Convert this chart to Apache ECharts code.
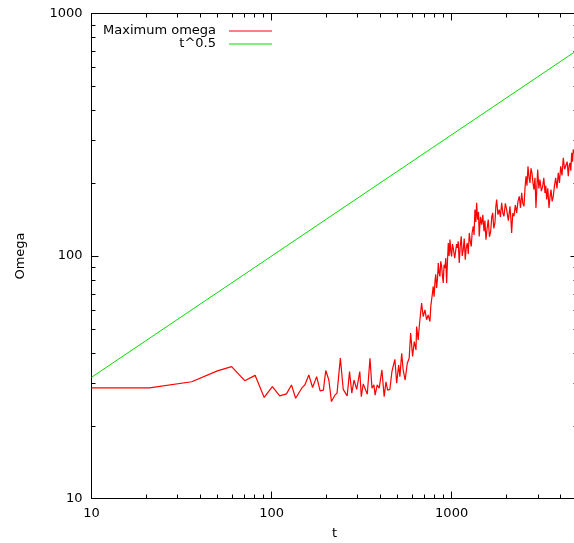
<!DOCTYPE html>
<html><head><meta charset="utf-8">
<script src="https://cdn.jsdelivr.net/npm/echarts@6/dist/echarts.min.js"></script>
<style>html,body{margin:0;padding:0;background:#fff}#chart{width:574px;height:543px}</style>
</head><body><div id="chart"></div>
<script>
// Maximum omega
const tValues = [10,21,36,50,60,71,81,91,101,111,121,129,136,147,153,161,169,178,186,194,
  200,208,215,225,231,241,250,263,271,279,287,297,304,309,315,323,331,340,352,361,
  370,376,386,396,410,422,432,441,454,466,484,495,508,516,528,538,552,567,581,592,
  607,620,634,639,652,661,681,695,711,726,741,
  758,766,774,782,790,799,808,816,825,834,843,852,861,870,880,889,898,908,918,928,
  938,948,958,968,979,990,1000,1010,1021,1040,1057,1065,1074,1088,1102,1116,1131,1145,1160,1175,
  1190,1205,1221,1237,1253,1269,1285,1300,1318,1332,1347,1362,1377,1386,1395,1410,1423,1445,1468,1490,
  1512,1530,1551,1574,1597,1622,1648,1670,1690,1715,1740,1760,1778,1808,1838,1866,1896,1925,1953,1987,
  2021,2065,2108,2130,2154,2185,2219,2258,2297,2336,2375,2412,2449,2485,2522,2555,2588,2620,2655,2690,
  2723,2758,2793,2830,2866,2903,2940,2972,3005,3050,3094,3150,3203,3250,3299,3335,3371,3420,3473,3518,
  3563,3615,3668,3725,3783,3846,3910,3970,4033,4100,4169,4240,4315,4380,4444,4490,4541,4590,4642,4690,
  4738,5000];
const omegaValues = [28.6,28.6,30.3,33.6,35.0,30.6,32.2,26.1,28.9,26.5,27.0,29.4,25.9,28.5,29.4,32.3,28.7,31.8,27.8,28.0,
  33.7,30.8,25.1,26.7,27.2,37.9,28.2,26.5,33.4,27.2,30.8,28.2,28.0,33.4,26.3,29.7,29.4,26.9,37.9,28.5,
  29.4,26.7,29.4,28.5,33.9,26.3,30.3,28.0,28.2,33.4,37.5,29.9,35.5,31.8,39.7,33.9,30.8,36.1,37.9,48.1,
  38.5,44.4,41.0,51.2,45.1,51.2,63.9,56.3,60.0,54.6,57.2,
  53.7,62,66.0,70,74.9,68,78.5,84,73.8,80,93.6,85,82.4,95,90.6,83,77.4,92,89.2,98,
  77.4,95,113.2,100,116.8,104,99.6,112,107.9,98,96.5,112,107.9,115,93.6,110,120.5,100,106.2,118,
  96.5,108,113.2,102,124.5,115,109.6,125,132.5,122,155.4,138,165.6,150,141.3,152,120.5,145,134.7,148,
  126.4,140,116.8,130,141.3,120,126.4,145,150.6,130,136.9,160,170.9,148,155.4,145,165.6,150,145.8,165,
  155.4,140,160.3,145,124.5,150,145.8,162,150.6,168,176.3,158,182.1,165,160.3,190,213.3,195,234.5,210,
  200.3,230,220.3,200,187.9,210,157.9,190,227.3,190,206.7,185,194.0,210,182.1,195,170.9,190,157.9,175,
  187.9,168,176.3,195,210.1,190,220.3,200,234.5,215,254.1,228,227.3,245,213.3,235,242.3,225,266.5,245,
  274.9,240];
// t^0.5 reference line (end points)
const refT = [10, 5000];
const refOmega = [31.6, 707];
// axis ticks
const xMinorTicks = [20,30,40,50,60,70,80,90,200,300,400,500,600,700,800,900,2000,3000,4000];
const yMinorTicks = [20,30,40,50,60,70,80,90,200,300,400,500,600,700,800,900];
const xRange = [10, 5000];
const yRange = [10, 1000];

const FONT = 'DejaVu Sans';
const chart = echarts.init(document.getElementById('chart'), null, {renderer: 'canvas'});
const MINOR = 4;

function minorTicks(values, dir) {
  return {
    type: 'custom', coordinateSystem: 'cartesian2d', xAxisIndex: 0, yAxisIndex: 0,
    silent: true, clip: false, z: 5,
    data: values.map(v => dir === 'x' ? [v, yRange[0]] : [xRange[0], v]),
    renderItem(params, api) {
      const st = {stroke: '#000', lineWidth: 1};
      if (dir === 'x') {
        const v = api.value(0);
        const a = api.coord([v, yRange[0]]), b = api.coord([v, yRange[1]]);
        const x = Math.round(a[0]) + 0.5;
        return {type: 'group', children: [
          {type: 'line', shape: {x1: x, y1: a[1], x2: x, y2: a[1] - MINOR}, style: st},
          {type: 'line', shape: {x1: x, y1: b[1], x2: x, y2: b[1] + MINOR}, style: st}
        ]};
      } else {
        const v = api.value(1);
        const a = api.coord([xRange[0], v]), b = api.coord([xRange[1], v]);
        const y = Math.round(a[1]) + 0.5;
        return {type: 'group', children: [
          {type: 'line', shape: {x1: a[0], y1: y, x2: a[0] + MINOR, y2: y}, style: st},
          {type: 'line', shape: {x1: b[0], y1: y, x2: b[0] - MINOR, y2: y}, style: st}
        ]};
      }
    }
  };
}

const isPow10 = v => Math.abs(Math.log10(v) - Math.round(Math.log10(v))) < 1e-6;
const axisCommon = {
  type: 'log', logBase: 10,
  axisLine: {show: true, lineStyle: {color: '#000', width: 1}},
  axisTick: {show: true, inside: true, length: 7, lineStyle: {color: '#000', width: 1}},
  splitLine: {show: false},
  minorTick: {show: false}
};

chart.setOption({
  animation: false,
  backgroundColor: '#fff',
  textStyle: {fontFamily: FONT},
  grid: {left: 91.5, top: 13.5, right: -3.5, bottom: 44.5, containLabel: false, outerBoundsMode: 'none'},
  legend: {
    data: ['Maximum omega', 't^0.5'],
    orient: 'vertical', align: 'right', left: 103, top: 24.5, padding: 0, itemGap: 0,
    icon: 'rect', itemWidth: 43, itemHeight: 1.2,
    textStyle: {fontFamily: FONT, fontSize: 13, color: '#000', padding: [0, 8, 0, 0]}
  },
  xAxis: [
    Object.assign({}, axisCommon, {
      position: 'bottom', min: xRange[0], max: xRange[1],
      name: 't', nameLocation: 'middle', nameGap: 29,
      nameTextStyle: {fontFamily: FONT, fontSize: 13, color: '#000'},
      axisLabel: {margin: 9, fontFamily: FONT, fontSize: 13, color: '#000', showMaxLabel: false,
        formatter: v => isPow10(v) ? String(Math.round(v)) : ''}
    }),
    Object.assign({}, axisCommon, {
      position: 'top', min: xRange[0], max: xRange[1], axisLabel: {show: false}
    })
  ],
  yAxis: [
    Object.assign({}, axisCommon, {
      position: 'left', min: yRange[0], max: yRange[1],
      name: 'Omega', nameLocation: 'middle', nameGap: 64,
      nameTextStyle: {fontFamily: FONT, fontSize: 13, color: '#000'},
      axisLabel: {margin: 9, fontFamily: FONT, fontSize: 13, color: '#000',
        formatter: v => isPow10(v) ? String(Math.round(v)) : ''}
    }),
    Object.assign({}, axisCommon, {
      position: 'right', min: yRange[0], max: yRange[1], axisLabel: {show: false}
    })
  ],
  series: [
    {
      name: 'Maximum omega', type: 'line', xAxisIndex: 0, yAxisIndex: 0,
      data: tValues.map((t, i) => [t, omegaValues[i]]),
      showSymbol: false, symbol: 'none', color: '#ff0000',
      lineStyle: {color: '#ff0000', width: 1.2}, z: 3
    },
    {
      name: 't^0.5', type: 'line', xAxisIndex: 0, yAxisIndex: 0,
      data: refT.map((t, i) => [t, refOmega[i]]),
      showSymbol: false, symbol: 'none', color: '#00e000',
      lineStyle: {color: '#00e000', width: 1}, z: 3
    },
    minorTicks(xMinorTicks, 'x'),
    minorTicks(yMinorTicks, 'y')
  ]
});
</script></body></html>
